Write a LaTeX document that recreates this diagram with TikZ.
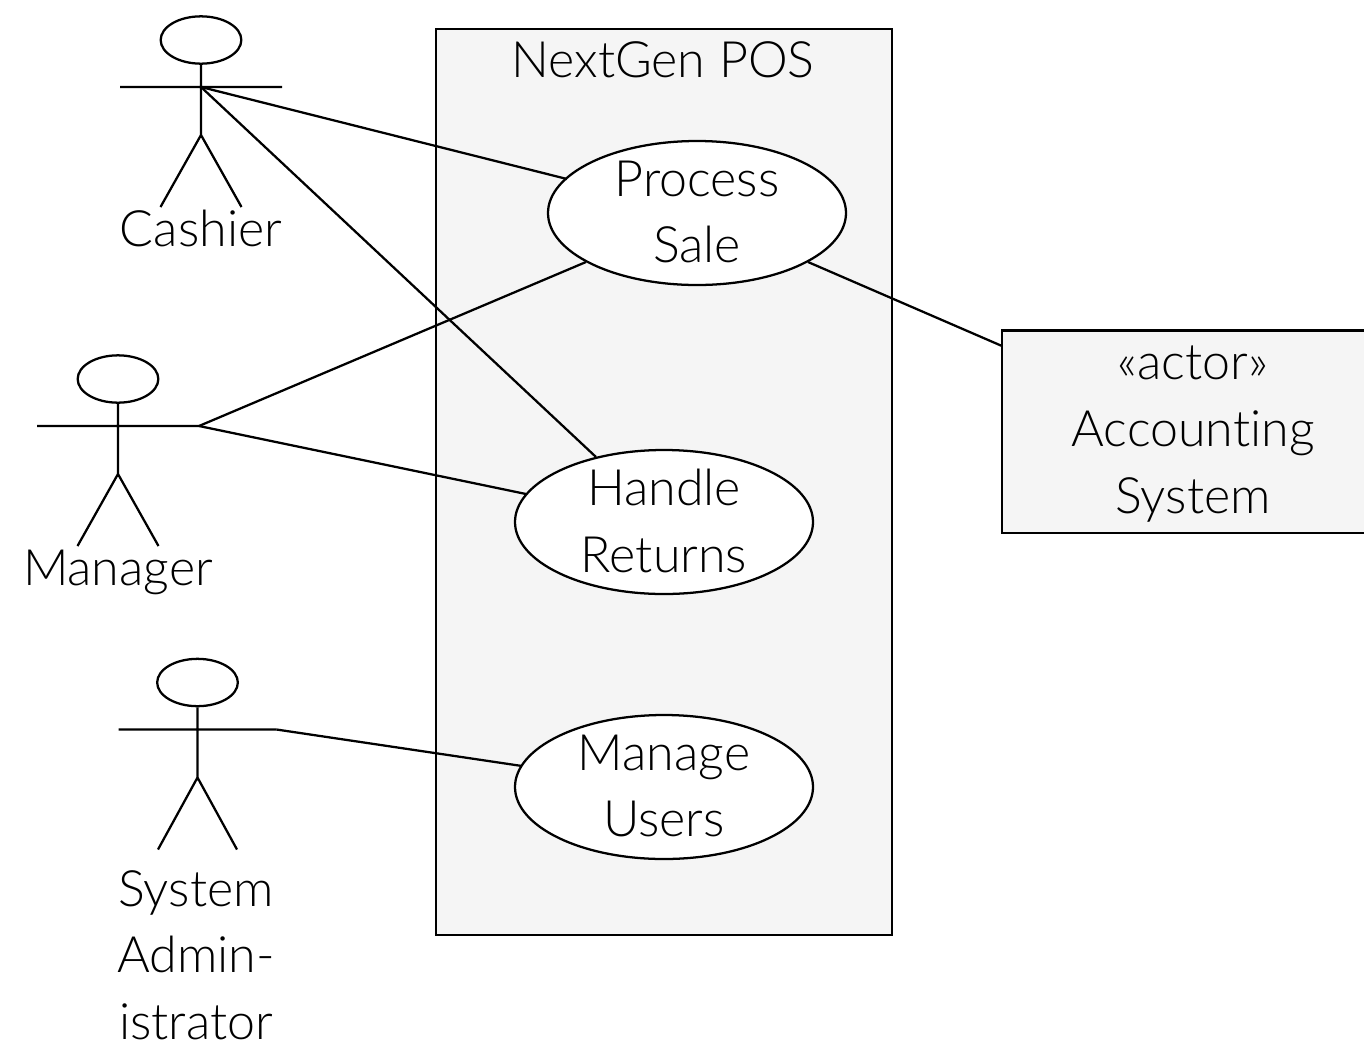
\documentclass[tikz,border=0pt]{standalone}
\usepackage{fontspec}
\setmainfont{Lato}[UprightFont={* Light},Ligatures=NoCommon]
\usetikzlibrary{shapes.geometric}
\tikzset{
  x=0.75pt,y=-0.75pt,
  line/.style={draw=black,line width=1.7pt},
  usecase/.style={ellipse,line,fill=white,minimum width=223.5pt,minimum height=108pt,inner sep=0pt},
  head/.style={ellipse,line,minimum width=60.5pt,minimum height=35.5pt,inner sep=0pt},
  txt/.style={font=\fontsize{37.6}{50}\selectfont,align=center,inner sep=0pt},
  box/.style={line,fill=black!4,inner sep=0pt,outer sep=0pt},
}
\newcommand{\actor}[4]{% name, cx, headcy, half-arm
  \node[head] (#1h) at (#2,#3) {};
  \coordinate (#1n) at (#2,#3+47);
  \coordinate (#1l) at (#2-#4,#3+47);
  \coordinate (#1r) at (#2+#4,#3+47);
  \coordinate (#1c) at (#2,#3+95);
  \coordinate (#1a) at (#2-#4/2,#3+167);
  \coordinate (#1b) at (#2+#4/2,#3+167);
  \draw[line] (#1h.south) -- (#1c) -- (#1a) (#1c) -- (#1b) (#1l) -- (#1r);
}
\begin{document}
\begin{tikzpicture}
\useasboundingbox (0,0) rectangle (1364,1040);
\node[box,minimum width=342pt,minimum height=680pt] (sys) at (664.2,482) {};
\node[txt] (title) at (663,60) {NextGen POS};
\actor{ca}{201}{40}{81}
\actor{ma}{118}{379}{81}
\actor{ad}{197.5}{682.5}{79}
\node[txt] (cal) at (201,228) {Cashier};
\node[txt] (mal) at (118,572.5) {Manager};
\node[txt] (adl) at (196,955) {System\\Admin-\\istrator};
\node[usecase] (ps) at (697,213) {};
\node[usecase] (hr) at (664,522) {};
\node[usecase] (mu) at (664,787) {};
\node[txt] at (697,212) {Process\\Sale};
\node[txt] at (664,521) {Handle\\Returns};
\node[txt] at (664,786) {Manage\\Users};
\node[box,minimum width=272pt,minimum height=152pt,anchor=north west] (acc) at (1002,330.5) {};
\node[txt] at (1193,434) {«actor»\\Accounting\\System};
\coordinate (psa) at (567,179);
\coordinate (psb) at (586,262);
\coordinate (psc) at (808,262);
\coordinate (hra) at (596,457);
\coordinate (hrb) at (526,494);
\coordinate (mua) at (522,766);
\coordinate (acca) at (1002,346);
\draw[line] (can) -- (psa);
\draw[line] (can) -- (hra);
\draw[line] (mar) -- (psb);
\draw[line] (mar) -- (hrb);
\draw[line] (adr) -- (mua);
\draw[line] (psc) -- (acca);
\end{tikzpicture}
\end{document}
